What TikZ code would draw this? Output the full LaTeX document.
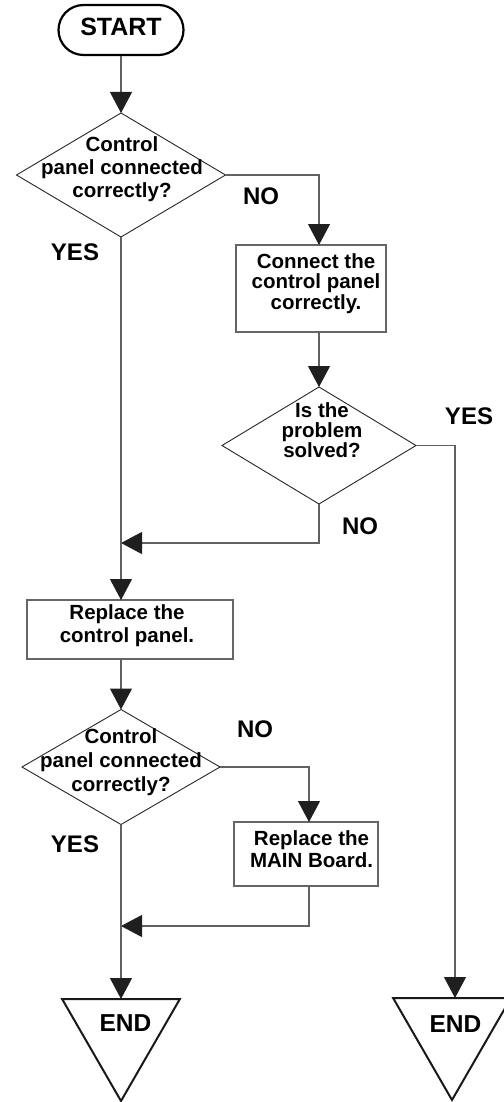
\documentclass[tikz,border=0pt]{standalone}
\usepackage{fontspec}
\setmainfont{Liberation Sans}
\usetikzlibrary{arrows.meta,shapes.geometric}
\begin{document}
\begin{tikzpicture}[x=1pt,y=-1pt,
  conn/.style={draw=black!62, line width=1.1pt},
  arr/.style={conn, -{Triangle[length=21pt,width=22pt,color=black!88]}},
  decision/.style={diamond, draw=black!85, line width=0.9pt, inner sep=0pt, outer sep=0pt},
  procbox/.style={rectangle, draw=black!60, line width=1.4pt, inner sep=0pt, outer sep=0pt},
  endmark/.style={regular polygon, regular polygon sides=3, shape border rotate=180,
    draw=black!90, line width=2pt, minimum size=136pt, inner sep=0pt, outer sep=0pt},
  txt/.style={font=\bfseries\fontsize{20.5}{23}\selectfont, align=center, inner sep=0pt},
  lbl/.style={font=\bfseries\fontsize{24}{26}\selectfont, inner sep=0pt},
  bigtxt/.style={font=\bfseries\fontsize{24.5}{28}\selectfont, inner sep=0pt},
]
\useasboundingbox (0,0) rectangle (503,1102);

% start terminal
\node[draw=black, line width=2.2pt, rounded corners=25pt, minimum width=125pt,
      minimum height=50pt, inner sep=0pt, text depth=6pt,
      font=\bfseries\fontsize{25}{28}\selectfont] (start) at (121,30) {START};

% first check
\node[decision, minimum width=209pt, minimum height=124pt] (d1) at (121,175) {};
\node[txt] (d1t) at (122,169.5) {Control\\panel connected\\correctly?};

% reconnect step
\node[procbox, minimum width=150pt, minimum height=87pt] (b1) at (311,288.5) {};
\node[txt, font=\bfseries\fontsize{20.5}{20.5}\selectfont] (b1t) at (316,283.5)
  {Connect the\\control panel\\correctly.};

% solved check
\node[decision, minimum width=194pt, minimum height=117pt] (d2) at (319,445.5) {};
\node[txt, font=\bfseries\fontsize{20.5}{20}\selectfont] (d2t) at (322,430.5)
  {Is the\\problem\\solved?};

\coordinate (j1) at (121,543);

% replace panel step
\node[procbox, minimum width=206pt, minimum height=59pt] (b2) at (130,629.5) {};
\node[txt] (b2t) at (127,626) {Replace the\\control panel.};

% second check
\node[decision, minimum width=198pt, minimum height=115pt] (d3) at (121,767) {};
\node[txt, font=\bfseries\fontsize{20.5}{24}\selectfont] (d3t) at (121,762.5)
  {Control\\panel connected\\correctly?};

% replace main board step
\node[procbox, minimum width=144pt, minimum height=64pt] (b3) at (306,854) {};
\node[txt, font=\bfseries\fontsize{20.5}{22}\selectfont] (b3t) at (311.5,849.5)
  {Replace the\\MAIN Board.};

\coordinate (j2) at (121,926);

% end terminals
\node[endmark] (end1) at (121,1033) {};
\node[bigtxt] (end1t) at (125.5,1023) {END};
\node[endmark] (end2) at (452,1032) {};
\node[bigtxt] (end2t) at (455.5,1024) {END};

% branch labels
\node[lbl] (no1) at (261,196) {NO};
\node[lbl] (yes1) at (75,252) {YES};
\node[lbl] (yes2) at (469,416) {YES};
\node[lbl] (no2) at (360,526) {NO};
\node[lbl] (no3) at (255,729) {NO};
\node[lbl] (yes3) at (75,844) {YES};

% connectors
\draw[arr] (start.south) -- (d1.north);
\draw[arr] (d1.east) -| (d2.north |- b1.north);
\draw[arr] (d2.north |- b1.south) -- (d2.north);
\draw[arr] (d2.south) |- (j1);
\draw[arr] (d2.east) -| ([xshift=3pt]end2.north);
\draw[arr] (d1.south) -- (d1.south |- b2.north);
\draw[arr] (d3.north |- b2.south) -- (d3.north);
\draw[arr] (d3.east) -| ([xshift=3pt]b3.north);
\draw[arr] ([xshift=3pt]b3.south) |- (j2);
\draw[arr] (d3.south) -- (d3.south |- end1.north);
\end{tikzpicture}
\end{document}
